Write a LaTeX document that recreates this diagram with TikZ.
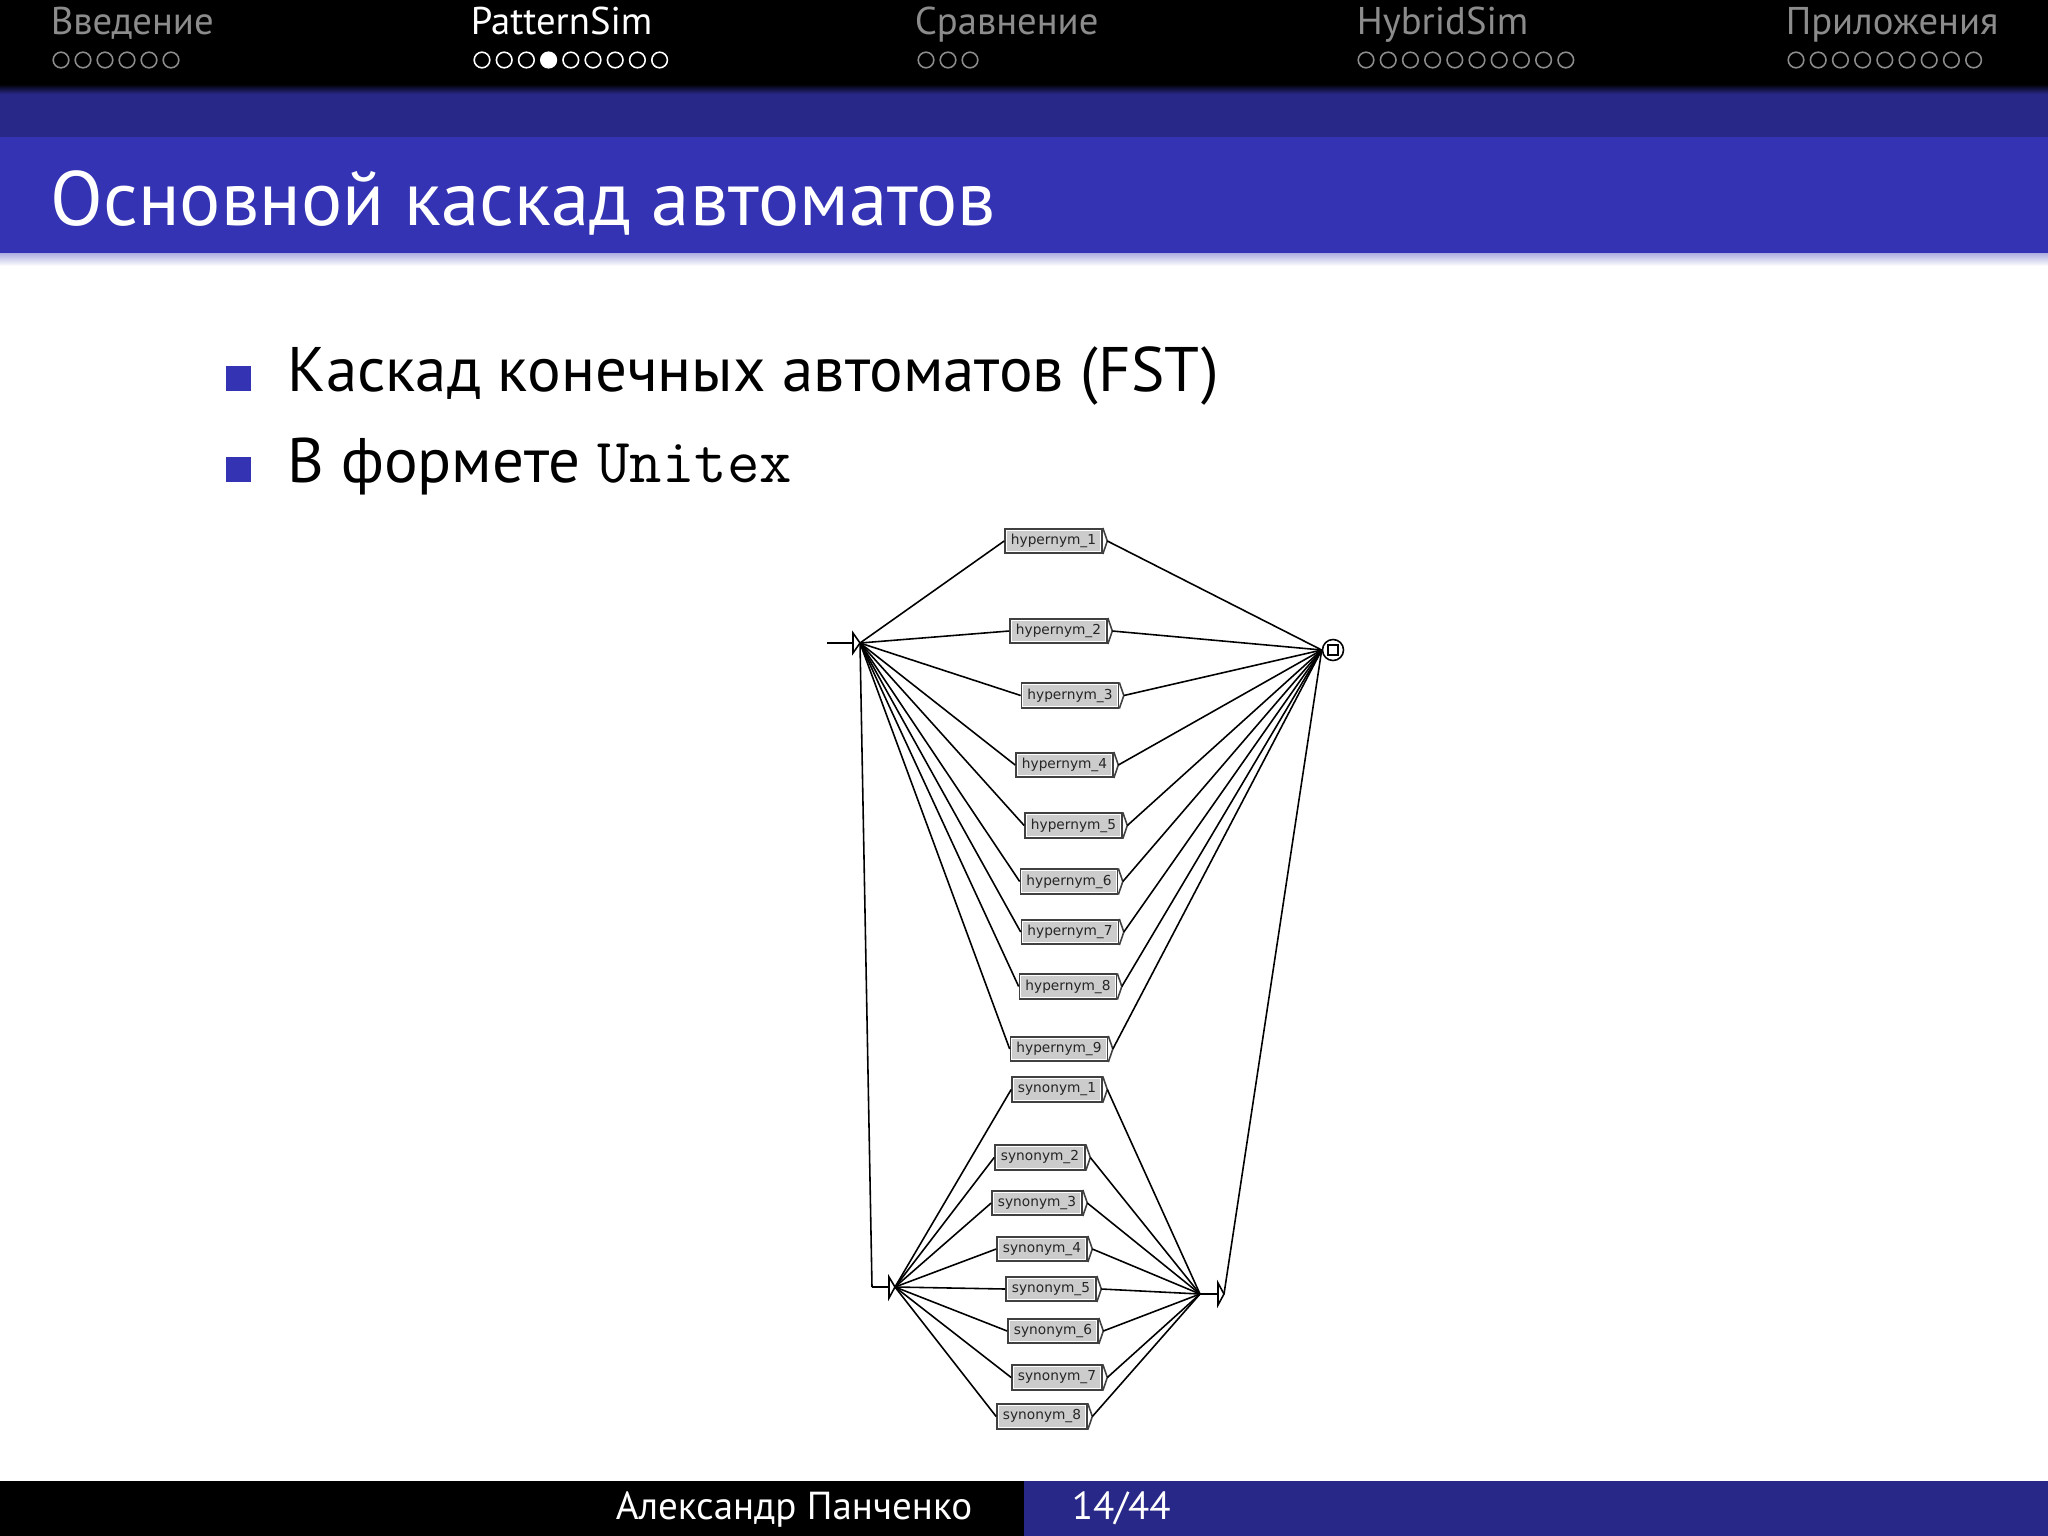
\documentclass[tikz,border=0pt]{standalone}
\usepackage{fontspec}
\setmainfont{PT Sans}
\newfontfamily\boxfont{DejaVu Sans}
\definecolor{barblue}{RGB}{51,51,179}
\definecolor{darkblue}{RGB}{40,40,136}
\definecolor{navgray}{RGB}{140,140,140}
\tikzset{
  box/.style={draw=black!75, fill=white, minimum height=0.245cm, inner sep=0pt,
    font=\boxfont\fontsize{3.9}{4.5}\selectfont, text=black!85,
    path picture={\fill[black!20] ([shift={(0.02cm,0.02cm)}]path picture bounding box.south west) rectangle ([shift={(-0.02cm,-0.02cm)}]path picture bounding box.north east);},
    append after command={\pgfextra{\draw[black!75] (\tikzlastnode.north east) -- ([xshift=0.045cm]\tikzlastnode.east) -- (\tikzlastnode.south east);}}},
  hyp/.style={box, minimum width=0.97cm},
  syn/.style={box, minimum width=0.90cm},
  navtext/.style={anchor=base west, inner sep=0pt, font=\fontsize{11}{13}\selectfont},
}
\begin{document}
\begin{tikzpicture}[x=0.01cm,y=-0.01cm,line width=0.45pt]
\useasboundingbox (0,0) rectangle (2048,1536);
\fill[black] (0,0) rectangle (2048,84);
\shade[top color=black,bottom color=darkblue] (0,84) rectangle (2048,94);
\fill[darkblue] (0,94) rectangle (2048,137);
\fill[barblue] (0,137) rectangle (2048,253);
\shade[top color=barblue!40,bottom color=white] (0,253) rectangle (2048,266);
\node[navtext,text=navgray] (sec1) at (50,34) {Введение};
\node[navtext,text=white] (sec2) at (470,34) {PatternSim};
\node[navtext,text=navgray] (sec3) at (914,34) {Сравнение};
\node[navtext,text=navgray] (sec4) at (1356,34) {HybridSim};
\node[navtext,text=navgray] (sec5) at (1785,34) {Приложения};
\foreach \i in {0,...,5} \draw[navgray] (61+22*\i,60) circle (0.078cm);
\foreach \i in {0,...,8} \draw[white] (482+22.2*\i,60) circle (0.078cm);
\fill[white] (482+22.2*3,60) circle (0.078cm);
\foreach \i in {0,...,2} \draw[navgray] (926+22*\i,60) circle (0.078cm);
\foreach \i in {0,...,9} \draw[navgray] (1366+22.2*\i,60) circle (0.078cm);
\foreach \i in {0,...,8} \draw[navgray] (1796+22.2*\i,60) circle (0.078cm);
\node[anchor=base west,inner sep=0pt,text=white,font=\fontsize{21.9}{26}\selectfont] (title) at (50,225) {Основной каскад автоматов};
\fill[barblue] (226,366) rectangle (251,391);
\fill[barblue] (226,457) rectangle (251,482);
\node[anchor=base west,inner sep=0pt,font=\fontsize{17.9}{21}\selectfont] (item1) at (287,391) {Каскад конечных автоматов (FST)};
\node[anchor=base west,inner sep=0pt,font=\fontsize{17.9}{21}\selectfont] (item2) at (287,482) {В формете {\ttfamily Unitex}};
\fill[black] (0,1481) rectangle (1024,1536);
\fill[darkblue] (1024,1481) rectangle (2048,1536);
\node[anchor=base east,inner sep=0pt,text=white,font=\fontsize{11.1}{13}\selectfont] (author) at (973,1519) {Александр Панченко};
\node[anchor=base west,inner sep=0pt,text=white,font=\fontsize{11.1}{13}\selectfont] (page) at (1071,1519) {14/44};
\coordinate (in) at (827,643);
\coordinate (stl) at (853,643);
\coordinate (st) at (860,643);
\draw (853,633) -- (st) -- (853,653) -- cycle;
\node[circle,draw,minimum size=0.21cm,inner sep=0pt] (fin) at (1333,650) {};
\node[draw,minimum size=0.1cm,inner sep=0pt] (finsq) at (fin) {};
\node[hyp] (h1) at (1053.5,541) {hypernym\_1};
\node[hyp] (h2) at (1058.5,631) {hypernym\_2};
\node[hyp] (h3) at (1070,695.5) {hypernym\_3};
\node[hyp] (h4) at (1064.5,765) {hypernym\_4};
\node[hyp] (h5) at (1073.5,825.5) {hypernym\_5};
\node[hyp] (h6) at (1069,881.5) {hypernym\_6};
\node[hyp] (h7) at (1070,932) {hypernym\_7};
\node[hyp] (h8) at (1068,986.5) {hypernym\_8};
\node[hyp] (h9) at (1059,1049) {hypernym\_9};
\node[syn] (s1) at (1057,1089.5) {synonym\_1};
\node[syn] (s2) at (1040,1157.5) {synonym\_2};
\node[syn] (s3) at (1037,1203) {synonym\_3};
\node[syn] (s4) at (1042,1249) {synonym\_4};
\node[syn] (s5) at (1051,1289) {synonym\_5};
\node[syn] (s6) at (1053,1331) {synonym\_6};
\node[syn] (s7) at (1057,1377.5) {synonym\_7};
\node[syn] (s8) at (1042,1416.5) {synonym\_8};
\coordinate (bend) at (872,1287);
\coordinate (ssl) at (889,1287);
\coordinate (ss) at (895,1287);
\draw (889,1277) -- (ss) -- (889,1298) -- cycle;
\coordinate (se) at (1200,1294);
\coordinate (sol) at (1218,1294);
\coordinate (so) at (1224,1294);
\draw (1218,1283) -- (so) -- (1218,1305) -- cycle;
\path [-] (in) edge (stl);
\path [-] (st) edge (bend);
\path [-] (bend) edge (ssl);
\path [-] (se) edge (sol);
\path [-] (so) edge (fin.west);
\path [-] (st) edge (h1.west);
\path [-] (st) edge (h2.west);
\path [-] (st) edge (h3.west);
\path [-] (st) edge (h4.west);
\path [-] (st) edge (h5.west);
\path [-] (st) edge (h6.west);
\path [-] (st) edge (h7.west);
\path [-] (st) edge (h8.west);
\path [-] (st) edge (h9.west);
\path [-] ([xshift=0.045cm]h1.east) edge (fin.west);
\path [-] ([xshift=0.045cm]h2.east) edge (fin.west);
\path [-] ([xshift=0.045cm]h3.east) edge (fin.west);
\path [-] ([xshift=0.045cm]h4.east) edge (fin.west);
\path [-] ([xshift=0.045cm]h5.east) edge (fin.west);
\path [-] ([xshift=0.045cm]h6.east) edge (fin.west);
\path [-] ([xshift=0.045cm]h7.east) edge (fin.west);
\path [-] ([xshift=0.045cm]h8.east) edge (fin.west);
\path [-] ([xshift=0.045cm]h9.east) edge (fin.west);
\path [-] (ss) edge (s1.west);
\path [-] (ss) edge (s2.west);
\path [-] (ss) edge (s3.west);
\path [-] (ss) edge (s4.west);
\path [-] (ss) edge (s5.west);
\path [-] (ss) edge (s6.west);
\path [-] (ss) edge (s7.west);
\path [-] (ss) edge (s8.west);
\path [-] ([xshift=0.045cm]s1.east) edge (se);
\path [-] ([xshift=0.045cm]s2.east) edge (se);
\path [-] ([xshift=0.045cm]s3.east) edge (se);
\path [-] ([xshift=0.045cm]s4.east) edge (se);
\path [-] ([xshift=0.045cm]s5.east) edge (se);
\path [-] ([xshift=0.045cm]s6.east) edge (se);
\path [-] ([xshift=0.045cm]s7.east) edge (se);
\path [-] ([xshift=0.045cm]s8.east) edge (se);
\end{tikzpicture}
\end{document}
